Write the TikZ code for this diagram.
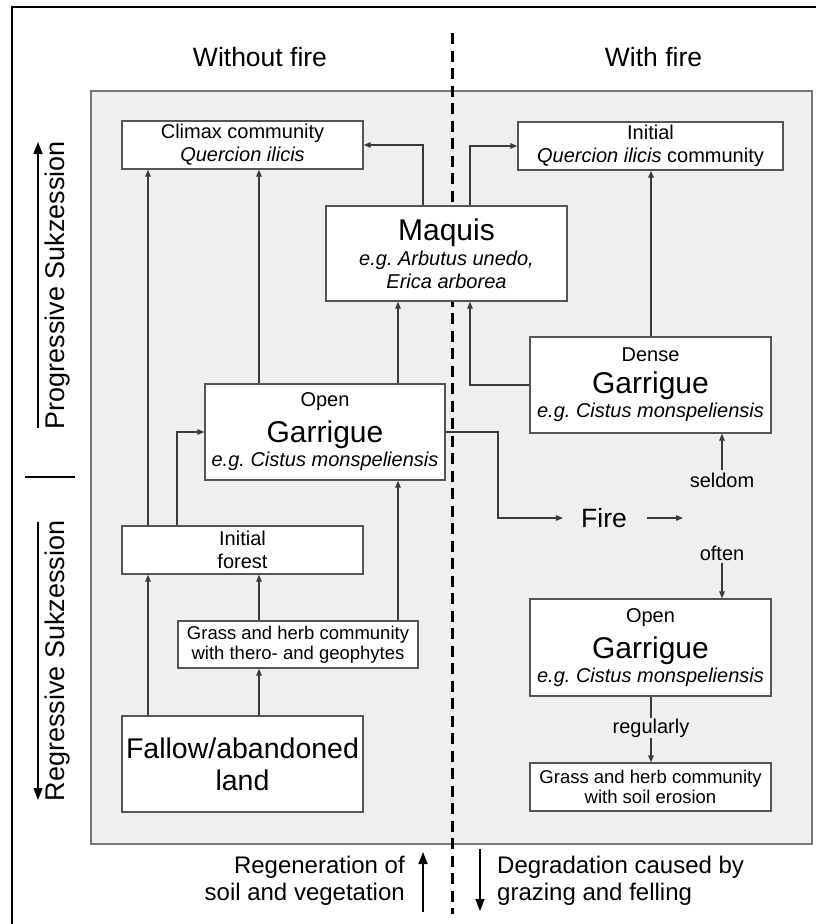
\documentclass[tikz,border=0pt]{standalone}
\usepackage{fontspec}
\setmainfont{Liberation Sans}
\usetikzlibrary{arrows.meta}
\definecolor{bggray}{HTML}{EFEFEF}
\definecolor{boxline}{HTML}{555555}
\definecolor{conncol}{HTML}{3A3A3A}
\newcommand{\bigword}[1]{{\fontsize{30}{30}\selectfont #1}}
\frenchspacing
\begin{document}
\begin{tikzpicture}[x=1pt,y=-1pt,
  box/.style={draw=boxline,line width=1.3pt,fill=white,inner sep=0pt,align=center,
    font=\fontsize{20}{23}\selectfont},
  smallbox/.style={box,font=\fontsize{18.5}{20}\selectfont},
  conn/.style={draw=conncol,line width=1.3pt,-{Triangle[length=7pt,width=5.5pt]}},
  lbl/.style={inner sep=2pt,font=\fontsize{20}{23}\selectfont},
  title/.style={inner sep=0pt,font=\fontsize{26.5}{30}\selectfont},
  side/.style={inner sep=0pt,rotate=90,font=\fontsize{27}{30}\selectfont},
  bigarrow/.style={line width=1.5pt,-{Triangle[length=12pt,width=9pt]}},
  bottomtext/.style={inner sep=0pt,font=\fontsize{24}{27}\selectfont}]
\useasboundingbox (0,0) rectangle (816,924);
% outer frame (left and top)
\draw[line width=1.5pt] (12,924) -- (12,7) -- (816,7);
% titles
\node[title] (wo) at (260,57) {Without fire};
\node[title] (wi) at (653.5,57) {With fire};
% gray panel
\fill[bggray] (91,91) rectangle (812,844);
\draw[draw=boxline!80,line width=1.8pt] (91,91) rectangle (812,844);
% dashed divider
\draw[line width=3pt,dash pattern=on 11pt off 6.5pt] (452,33) -- (452,914);
% side axis
\node[side] (prog) at (58,285) {Progressive Sukzession};
\node[side] (regr) at (58,661) {Regressive Sukzession};
\coordinate (pA) at (38,428);
\coordinate (pB) at (38,142);
\coordinate (rA) at (38,522);
\coordinate (rB) at (38,800);
\draw[bigarrow] (pA) -- (pB);
\draw[bigarrow] (rA) -- (rB);
\coordinate (sepA) at (25,477);
\coordinate (sepB) at (75,477);
\draw[line width=1.5pt] (sepA) -- (sepB);
% boxes
\node[box,minimum width=241pt,minimum height=48pt] (climax) at (242.5,145)
  {Climax community\\\textit{Quercion ilicis}};
\node[box,minimum width=265pt,minimum height=48pt] (iquercion) at (650.5,146)
  {Initial\\\textit{Quercion ilicis} community};
\node[box,minimum width=241pt,minimum height=95pt] (maquis) at (446.5,253.5)
  {\bigword{Maquis}\\[2pt]\textit{e.g. Arbutus unedo,}\\\textit{Erica arborea}};
\node[box,minimum width=241pt,minimum height=96pt] (dense) at (650.5,385)
  {Dense\\[9pt]\bigword{Garrigue}\\[1pt]\textit{e.g. Cistus monspeliensis}};
\node[box,minimum width=240pt,minimum height=96pt] (opengar) at (325,432)
  {Open\\[9pt]\bigword{Garrigue}\\[1pt]\textit{e.g. Cistus monspeliensis}};
\node[box,minimum width=241pt,minimum height=48pt] (iforest) at (242.5,550)
  {Initial\\forest};
\node[smallbox,minimum width=240pt,minimum height=47pt] (grass) at (298,644.5)
  {Grass and herb community\\with thero- and geophytes};
\node[box,minimum width=241pt,minimum height=96pt,font=\fontsize{28.5}{32}\selectfont] (fallow) at (242.5,764)
  {Fallow/abandoned\\land};
\node[box,minimum width=241pt,minimum height=97pt] (opengarB) at (650.5,647.5)
  {Open\\[9pt]\bigword{Garrigue}\\[1pt]\textit{e.g. Cistus monspeliensis}};
\node[smallbox,minimum width=241pt,minimum height=48pt] (grassB) at (650.5,787)
  {Grass and herb community\\with soil erosion};
% column helpers
\coordinate (X148) at (148,0);
\coordinate (X177) at (177,0);
\coordinate (X259) at (259,0);
\coordinate (X398) at (398,0);
\coordinate (X423) at (423,0);
\coordinate (X470) at (470,0);
\coordinate (X651) at (651,0);
\coordinate (X722) at (722,0);
% connectors
\draw[conn] (fallow.north -| X148) -- (iforest.south -| X148);
\draw[conn] (fallow.north -| X259) -- (grass.south -| X259);
\draw[conn] (grass.north -| X259) -- (iforest.south -| X259);
\draw[conn] (grass.north -| X398) -- (opengar.south -| X398);
\draw[conn] (iforest.north -| X148) -- (climax.south -| X148);
\draw[conn] (iforest.north -| X177) |- (opengar.west);
\draw[conn] (opengar.north -| X259) -- (climax.south -| X259);
\draw[conn] (opengar.north -| X398) -- (maquis.south -| X398);
\draw[conn] (maquis.north -| X423) |- (climax.east);
\draw[conn] (maquis.north -| X470) |- (iquercion.west);
\draw[conn] (dense.west) -| (maquis.south -| X470);
\draw[conn] (dense.north -| X651) -- (iquercion.south -| X651);
% fire
\node[inner xsep=18pt,inner ysep=0pt,font=\fontsize{26.5}{30}\selectfont] (fire) at (604,518) {Fire};
\coordinate (fturn) at (498,518);
\coordinate (fend) at (683,518);
\draw[conn] (opengar.east) -| (fturn) -- (fire.west);
\draw[conn] ([xshift=2pt]fire.east) -- (fend);
\node[lbl] (seldom) at (722,480) {seldom};
\node[lbl] (often) at (722,553) {often};
\draw[conn] (seldom.north) -- (dense.south -| X722);
\draw[conn] (often.south) -- (opengarB.north -| X722);
\draw[conn] (opengarB.south -| X651) -- (grassB.north -| X651);
\node[lbl,fill=bggray,inner sep=1pt] (reg) at (651,728) {regularly};
% bottom
\node[bottomtext,anchor=east,align=right] (regen) at (405,881)
  {Regeneration of\\soil and vegetation};
\node[bottomtext,anchor=west,align=left] (degr) at (497,881)
  {Degradation caused by\\grazing and felling};
\coordinate (uA) at (423,912);
\coordinate (uB) at (423,852);
\coordinate (dA) at (480,849);
\coordinate (dB) at (480,911);
\draw[bigarrow] (uA) -- (uB);
\draw[bigarrow] (dA) -- (dB);
\end{tikzpicture}
\end{document}
